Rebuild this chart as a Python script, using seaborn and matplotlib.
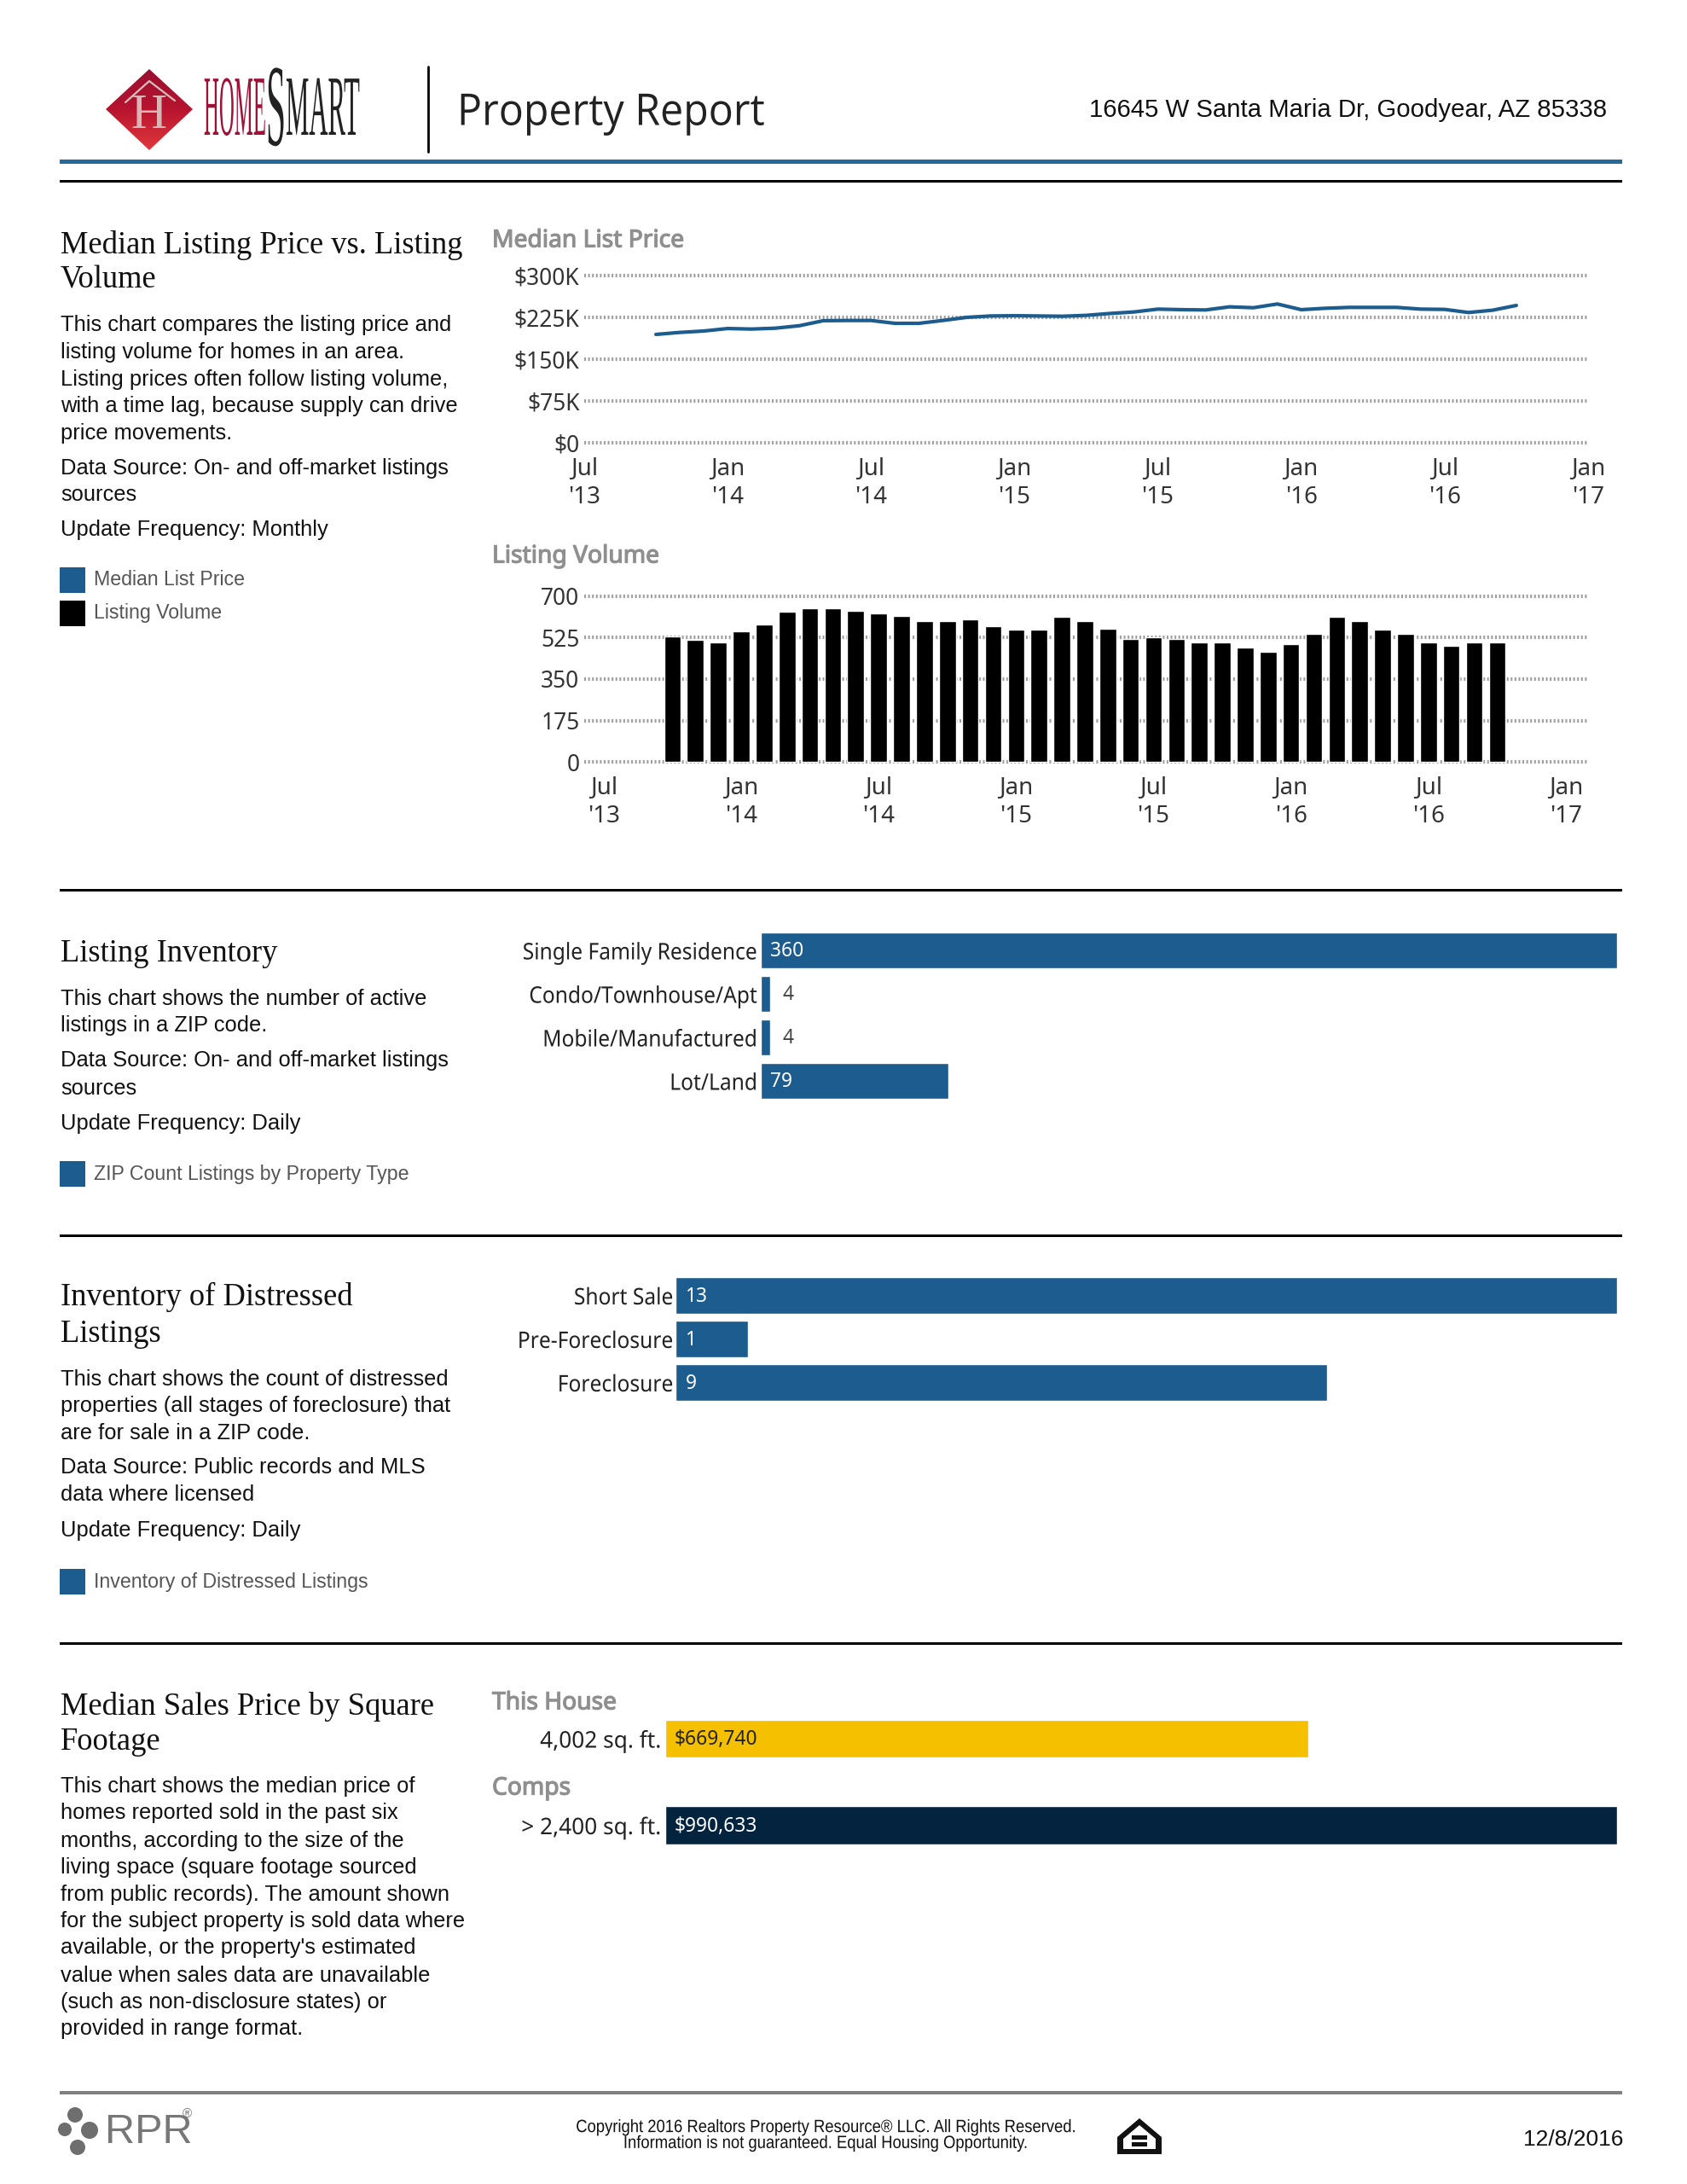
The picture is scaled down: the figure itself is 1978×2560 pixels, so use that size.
import numpy as np
import pandas as pd
import matplotlib
matplotlib.use("Agg")
import matplotlib.pyplot as plt
import matplotlib.patheffects as pe
from matplotlib.path import Path
from matplotlib.patches import Polygon, Circle, Rectangle
from matplotlib.transforms import Affine2D, Bbox
import seaborn as sns

# ---------- data ----------
months = list(range(3, 40))  # months since Jul 2013
median_price = [194.4, 198, 200.5, 205, 204, 205.6, 210, 219, 219.4, 219.4, 214.3, 214.3, 219.4,
                225, 227.5, 228, 227.5, 227, 228.6, 232, 234.7, 239.8, 238.8, 238.3, 243.9, 242.3,
                249, 238.8, 241.3, 242.9, 242.9, 242.9, 239.8, 239.3, 233.7, 237.8, 246.4]
listing_volume = [529, 515, 506, 551, 581, 635, 648, 648, 640, 627, 618, 595, 595, 604, 574, 559, 559,
                  612, 595, 564, 521, 528, 521, 506, 506, 484, 467, 498, 542, 612, 595, 559, 542, 506,
                  490, 506, 506]
time_ticks = [0, 6, 12, 18, 24, 30, 36, 42]
time_labels = ["Jul\n'13", "Jan\n'14", "Jul\n'14", "Jan\n'15", "Jul\n'15", "Jan\n'16", "Jul\n'16", "Jan\n'17"]
price_ticks = [0, 75, 150, 225, 300]
price_labels = ["$0", "$75K", "$150K", "$225K", "$300K"]
volume_ticks = [0, 175, 350, 525, 700]

inventory_types = ["Single Family Residence", "Condo/Townhouse/Apt", "Mobile/Manufactured", "Lot/Land"]
inventory_counts = [360, 4, 4, 79]
distress_types = ["Short Sale", "Pre-Foreclosure", "Foreclosure"]
distress_counts = [13, 1, 9]
house_label = ["4,002 sq. ft."]
house_price = [669740]
comps_label = ["> 2,400 sq. ft."]
comps_price = [990633]

# ---------- page ----------
W, H = 1978, 2560
BLUE = "#1c5c8e"
sns.set_theme(style="white")
plt.rcParams["font.family"] = ["Liberation Sans", "DejaVu Sans"]
fig = plt.figure(figsize=(W / 100, H / 100), dpi=100, facecolor="white")


def px_axes(x0, y0, x1, y1, **kw):
    return fig.add_axes([x0 / W, 1 - y1 / H, (x1 - x0) / W, (y1 - y0) / H], **kw)


bg = px_axes(0, 0, W, H)
bg.set_xlim(0, W)
bg.set_ylim(H, 0)
bg.axis("off")


class Squeeze(pe.AbstractPathEffect):
    """Narrows the glyphs of a real text horizontally, about a page x (px)."""
    def __init__(self, sx, x0):
        super().__init__()
        self.sx, self.x0 = sx, x0

    def draw_path(self, renderer, gc, tpath, affine, rgbFace=None):
        t = affine + Affine2D().translate(-self.x0, 0).scale(self.sx, 1).translate(self.x0, 0)
        renderer.draw_path(gc, tpath, t, rgbFace)


class LogoWord(pe.AbstractPathEffect):
    """Draws the wordmark text: tall narrow letters, an oversized S, two colours."""
    def __init__(self, x_from, x_to, split_px, page_x0, left, right, sy, s_range, s_sy, cap):
        super().__init__()
        self.x_from, self.x_to = x_from, x_to
        self.split_px, self.page_x0 = split_px, page_x0
        self.left, self.right = left, right
        self.sy, self.s_range, self.s_sy, self.cap = sy, s_range, s_sy, cap

    def draw_path(self, renderer, gc, tpath, affine, rgbFace=None):
        v = np.array(tpath.vertices, dtype=float)
        in_s = (v[:, 0] >= self.s_range[0]) & (v[:, 0] < self.s_range[1])
        new = v.copy()
        new[:, 0] = np.interp(v[:, 0], self.x_from, self.x_to)
        new[:, 1] = v[:, 1] * self.sy
        mid = self.cap * self.sy / 2
        new[in_s, 1] = mid + (new[in_s, 1] - mid) * self.s_sy
        p = Path(new, tpath.codes)
        x_split = self.page_x0 + self.split_px
        for color, (a, b) in [(self.left, (0, x_split)), (self.right, (x_split, W))]:
            gc2 = renderer.new_gc()
            gc2.copy_properties(gc)
            gc2.set_clip_rectangle(Bbox.from_extents(a, 0, b, H))
            renderer.draw_path(gc2, p, affine, matplotlib.colors.to_rgba(color))
            gc2.restore()


def squeeze(txt, sx, x0):
    txt.set_path_effects([Squeeze(sx, x0)])
    return txt


def T(x, y, s, size, font="Liberation Sans", color="#111111", ha="left", va="center", sx=None, **kw):
    t = bg.text(x, y, s, fontsize=size, family=font, color=color, ha=ha, va=va, **kw)
    if sx is not None:
        squeeze(t, sx, x)
    return t


def rule(y, color="black", lw=3.0, x0=70, x1=1902):
    bg.add_patch(Rectangle((x0, y - lw / 2), x1 - x0, lw, color=color, lw=0))


# ---------- header ----------
grad = np.linspace(0, 1, 64)[:, None]
cmap = matplotlib.colors.LinearSegmentedColormap.from_list("d", ["#98102f", "#b8142f", "#e0383c"])
im = bg.imshow(grad, extent=(124, 226, 176, 81), cmap=cmap, aspect="auto", zorder=1)
diamond = Polygon([(175, 81), (226, 128), (175, 176), (124, 128)], closed=True, transform=bg.transData,
                  fc="none", ec="none")
bg.add_patch(diamond)
im.set_clip_path(diamond)
bg.set_xlim(0, W)
bg.set_ylim(H, 0)
bg.plot([147, 175, 205], [120, 95, 118], color="#d9bcbc", lw=1.6, zorder=2)
T(174, 136, "H", 42, font="Liberation Serif", color="#d8b6b6", ha="center", zorder=2)
# wordmark: path units are 1/100 em, one real text
em = 34 * 100 / 72 / 100
word = T(237, 158, "HOMESMART", 34, font="Liberation Serif", color="#222222", va="baseline")
word.set_path_effects([LogoWord([0, 294.4, 350, 640], [2 / em, 75 / em, 98 / em, 187 / em], 76, 237,
                                "#9e1238", "#222222", 2.13, (294.4, 350), 1.36, 66)])
bg.plot([502, 502], [78, 178], color="black", lw=2)
T(536, 133, "Property Report", 37, font="Open Sans", color="#222222", sx=0.94)
T(1884, 129, "16645 W Santa Maria Dr, Goodyear, AZ 85338", 21.2, ha="right", color="#111111")
rule(189, color="#266a9c", lw=5)
rule(212, color="black", lw=3)

# ---------- left column text ----------
TITLE = dict(size=26.3, font="Liberation Serif", linespacing=1.22)
BODY = dict(size=18.4)
LEG = dict(size=16.7, color="#555555")


def block(ys, lines, **style):
    for y, line in zip(ys, lines):
        T(71, y, line, **style)


def legend_row(y, label, color):
    bg.add_patch(Rectangle((70, y - 15), 30, 30, color=color, lw=0))
    T(110, y, label, **LEG)


T(71, 308, "Median Listing Price vs. Listing\nVolume", **TITLE)
block([381, 413, 445, 476, 508, 549, 580, 621],
      ["This chart compares the listing price and", "listing volume for homes in an area.",
       "Listing prices often follow listing volume,", "with a time lag, because supply can drive",
       "price movements.", "Data Source: On- and off-market listings", "sources",
       "Update Frequency: Monthly"], **BODY)
legend_row(680, "Median List Price", BLUE)
legend_row(719, "Listing Volume", "black")

T(71, 1118, "Listing Inventory", **TITLE)
block([1171, 1202, 1243, 1276, 1317],
      ["This chart shows the number of active", "listings in a ZIP code.",
       "Data Source: On- and off-market listings", "sources", "Update Frequency: Daily"], **BODY)
legend_row(1376, "ZIP Count Listings by Property Type", BLUE)

T(71, 1542, "Inventory of Distressed\nListings", **{**TITLE, "linespacing": 1.3})
block([1617, 1648, 1680, 1720, 1752, 1794],
      ["This chart shows the count of distressed", "properties (all stages of foreclosure) that",
       "are for sale in a ZIP code.", "Data Source: Public records and MLS", "data where licensed",
       "Update Frequency: Daily"], **BODY)
legend_row(1854, "Inventory of Distressed Listings", BLUE)

T(71, 2021, "Median Sales Price by Square\nFootage", **TITLE)
block([2094, 2125, 2158, 2189, 2221, 2252, 2283, 2316, 2347, 2378],
      ["This chart shows the median price of", "homes reported sold in the past six",
       "months, according to the size of the", "living space (square footage sourced",
       "from public records). The amount shown", "for the subject property is sold data where",
       "available, or the property's estimated", "value when sales data are unavailable",
       "(such as non-disclosure states) or", "provided in range format."], **BODY)

rule(1043)
rule(1448)
rule(1926)
rule(2453, color="#808080", lw=4)

# ---------- chart fonts ----------
CH = "Noto Sans"
GRID = dict(color="#a0a0a0", lw=3, ls=(0, (0.5, 0.6)))
HEAD = dict(font=CH, color="#8f8f8f", path_effects=[pe.withStroke(linewidth=0.9, foreground="#8f8f8f")])


def style_time(ax, ticks, labels):
    sns.despine(ax=ax, left=True, bottom=True)
    ax.set_facecolor("none")
    ax.set_axisbelow(True)
    ax.yaxis.grid(True, **GRID)
    ax.xaxis.grid(False)
    ax.set_xticks(time_ticks)
    ax.set_xticklabels(time_labels, family=CH, fontsize=20, color="#333333", linespacing=1.25)
    ax.set_yticks(ticks)
    ax.set_yticklabels(labels, family=CH, fontsize=19, color="#333333")
    ax.tick_params(axis="both", length=0, pad=4)
    ax.tick_params(axis="x", pad=9)
    ax.set_xlabel("")
    ax.set_ylabel("")


# price line
T(577, 282, "Median List Price", 20.3, **HEAD)
ax1 = px_axes(685, 319, 1862, 523)
sns.lineplot(x=months, y=median_price, color=BLUE, lw=3, ax=ax1, errorbar=None)
ax1.set_xlim(0, 42)
ax1.set_ylim(-6.12, 306.12)
style_time(ax1, price_ticks, price_labels)

# volume bars
T(577, 652, "Listing Volume", 20.3, **HEAD)
ax2 = px_axes(685, 695, 1862, 897)
sns.barplot(x=months, y=listing_volume, native_scale=True, color="black", saturation=1, width=0.73, ax=ax2)
ax2.set_xlim(-0.85, 42.97)
ax2.set_ylim(-14.4, 714.4)
style_time(ax2, volume_ticks, [str(v) for v in volume_ticks])


# ---------- horizontal bars ----------
def hbars(ax, cats, vals, color, vmax, x0, pad, txt="white", small=None, fmt="{}", off=8.2, lab_sx=0.917):
    sns.barplot(y=cats, x=vals, color=color, saturation=1, width=0.84, orient="h", ax=ax)
    ax.set_xlim(0, vmax)
    ax.set_ylim(len(cats) - 0.5, -0.5)
    sns.despine(ax=ax, left=True, bottom=True)
    ax.set_facecolor("none")
    ax.set_xticks([])
    ax.set_xlabel("")
    ax.set_ylabel("")
    ax.tick_params(axis="y", length=0, pad=pad)
    for lab in ax.get_yticklabels():
        lab.set_family(CH)
        lab.set_fontsize(19.3)
        lab.set_color("#222222")
        squeeze(lab, lab_sx, x0 - pad * 100 / 72)
    for i, v in enumerate(vals):
        if small is not None and v < small:
            ax.annotate(fmt.format(v), (v, i), xytext=(10.5, -1), textcoords="offset points", va="center",
                        family=CH, fontsize=16.4, color="#444444")
        else:
            ax.annotate(fmt.format(v), (0, i), xytext=(off, -1), textcoords="offset points", va="center",
                        family=CH, fontsize=16.4, color=txt)


ax3 = px_axes(892, 1088.5, 1896, 1292.5)
hbars(ax3, inventory_types, inventory_counts, BLUE, 360, 892, 3, small=20)
ax4 = px_axes(792, 1493, 1896, 1646)
hbars(ax4, distress_types, distress_counts, BLUE, 13, 792, 2)

T(577, 1996, "This House", 20.3, **HEAD)
ax5 = px_axes(780, 2011.75, 1896, 2064.25)
hbars(ax5, house_label, house_price, "#f5c000", 990633, 780, 3.5, txt="#222222", fmt="${:,}", off=8, lab_sx=0.98)
T(577, 2096, "Comps", 20.3, **HEAD)
ax6 = px_axes(780, 2113.25, 1896, 2165.75)
hbars(ax6, comps_label, comps_price, "#04233f", 990633, 780, 3.5, fmt="${:,}", off=8, lab_sx=0.98)

# ---------- footer ----------
for cx, cy, r in [(88, 2479, 9), (76, 2496, 8), (105, 2497, 10), (91, 2517, 9)]:
    bg.add_patch(Circle((cx, cy), r, color="#6e6e6e", lw=0))
T(123, 2499, "RPR", 35, font="Liberation Sans", color="#777777")
T(214, 2478, "®", 11, color="#777777")
T(969, 2503, "Copyright 2016 Realtors Property Resource® LLC. All Rights Reserved.\n"
             "Information is not guaranteed. Equal Housing Opportunity.",
  15, ha="center", sx=0.885, linespacing=0.98)
bg.add_patch(Polygon([(1336, 2483), (1362, 2505), (1362, 2525), (1310, 2525), (1310, 2505)], closed=True,
                     color="#111111", lw=0))
bg.add_patch(Polygon([(1336, 2491), (1355, 2507), (1355, 2519), (1317, 2519), (1317, 2507)], closed=True,
                     color="white", lw=0))
bg.add_patch(Rectangle((1327, 2503), 18, 5, color="#111111", lw=0))
bg.add_patch(Rectangle((1327, 2511), 18, 5, color="#111111", lw=0))
T(1903, 2508, "12/8/2016", 19, ha="right")

fig.savefig("out.png", dpi=100, facecolor="white")
